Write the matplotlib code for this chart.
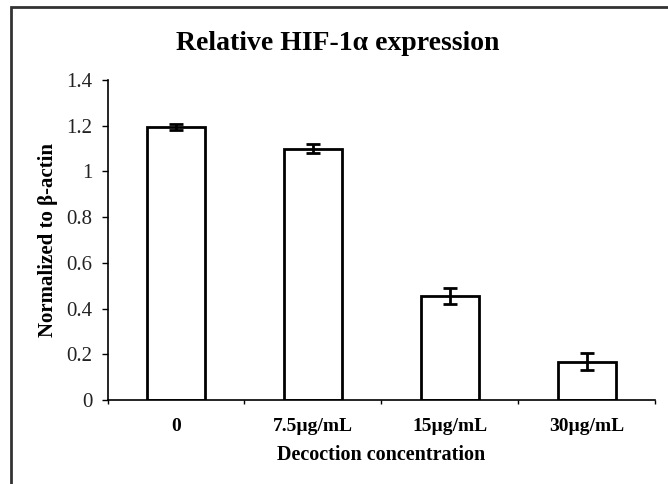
import matplotlib
matplotlib.use("Agg")
import matplotlib.pyplot as plt
from matplotlib.patches import Rectangle

categories = ["0", "7.5\u00b5g/mL", "15\u00b5g/mL", "30\u00b5g/mL"]
values = [1.195, 1.10, 0.456, 0.167]
errors = [0.012, 0.02, 0.035, 0.038]
yticks = [0, 0.2, 0.4, 0.6, 0.8, 1, 1.2, 1.4]
ytick_labels = ["0", "0.2", "0.4", "0.6", "0.8", "1", "1.2", "1.4"]

plt.rcParams['font.family'] = ['Liberation Serif', 'DejaVu Serif']

fig = plt.figure(figsize=(6.68, 4.84), dpi=100)
ax = fig.add_axes([0.161, 0.1736, 0.82, 0.6611])

x = list(range(len(categories)))
ax.bar(x, values, width=0.42, color='white', edgecolor='black', linewidth=2, zorder=2)
ax.errorbar(x, values, yerr=errors, fmt='none', ecolor='black', elinewidth=2,
            capsize=5, capthick=2, zorder=3)

ax.set_xlim(-0.5, 3.5)
ax.set_ylim(0, 1.4)
ax.set_yticks(yticks)
ax.set_yticklabels(ytick_labels, fontsize=15, color='#222222')
ax.set_xticks([-0.5, 0.5, 1.5, 2.5, 3.5])
ax.set_xticklabels([])
ax.set_xticks(x, minor=True)
ax.set_xticklabels(categories, minor=True, fontsize=14, fontweight='bold')
ax.tick_params(axis='x', which='minor', length=0, pad=13)
ax.tick_params(axis='x', which='major', length=3, width=1, direction='out')
ax.tick_params(axis='y', length=4, width=1, direction='out', pad=7)

for s in ['top', 'right']:
    ax.spines[s].set_visible(False)
for s in ['left', 'bottom']:
    ax.spines[s].set_linewidth(1.2)

ax.set_xlabel("Decoction concentration", fontsize=14.5, fontweight='bold', labelpad=7)
ax.set_ylabel("Normalized to \u03b2-actin", fontsize=15, fontweight='bold', labelpad=6)
fig.text(0.505, 1 - 44 / 484, "Relative HIF-1\u03b1 expression", ha='center', va='center',
         fontsize=20, fontweight='bold')

fig.patches.append(Rectangle((11 / 668, -0.1), 1.2, 1 - 7 / 484 + 0.1,
                             transform=fig.transFigure, fill=False,
                             edgecolor='#333333', linewidth=2))

fig.savefig("out.png", dpi=100)
